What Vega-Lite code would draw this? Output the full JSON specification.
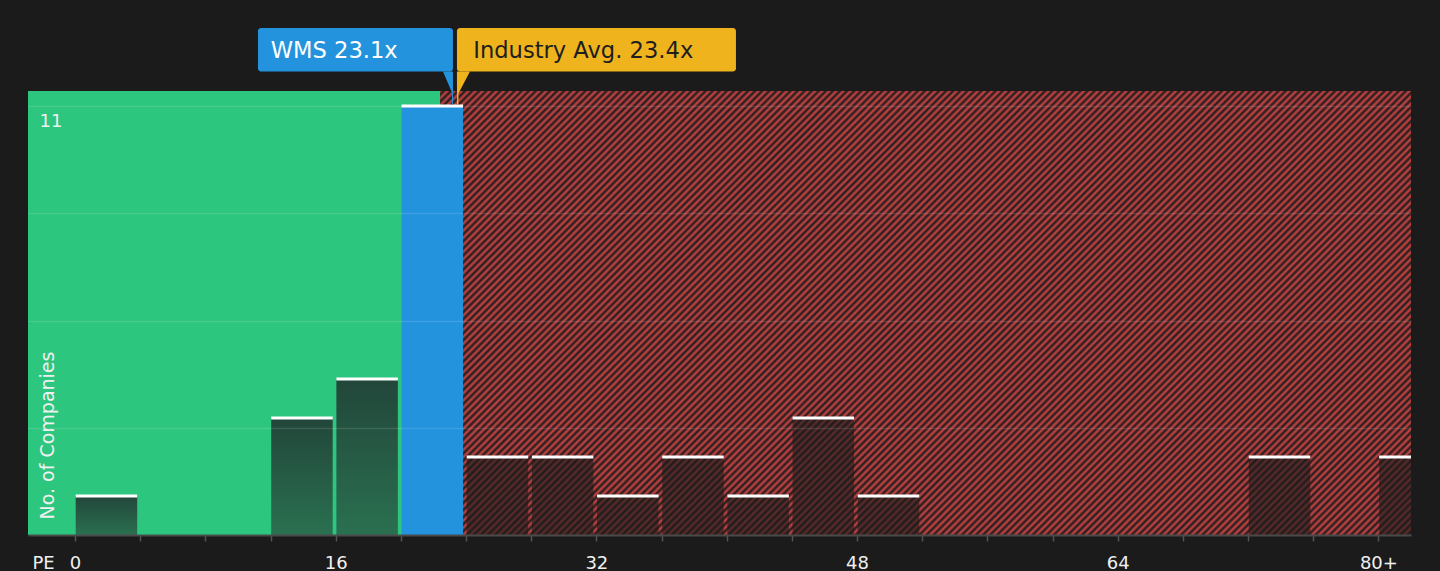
{
  "$schema": "https://vega.github.io/schema/vega-lite/v6.json",
  "width": 1383,
  "height": 444,
  "autosize": {"type": "none"},
  "padding": {"left": 28, "top": 91, "right": 29, "bottom": 36},
  "background": "#1b1b1b",
  "config": {"view": {"stroke": null}, "font": "DejaVu Sans"},
  "datasets": {
    "zones": [
      {"zone": "below", "lo": -2.885, "hi": 22.42},
      {"zone": "above", "lo": 22.42, "hi": 82}
    ],
    "bins": [
      {"start": 0, "end": 4, "count": 1, "kind": "below"},
      {"start": 12, "end": 16, "count": 3, "kind": "below"},
      {"start": 16, "end": 20, "count": 4, "kind": "below"},
      {"start": 20, "end": 24, "count": 11, "kind": "company"},
      {"start": 24, "end": 28, "count": 2, "kind": "above"},
      {"start": 28, "end": 32, "count": 2, "kind": "above"},
      {"start": 32, "end": 36, "count": 1, "kind": "above"},
      {"start": 36, "end": 40, "count": 2, "kind": "above"},
      {"start": 40, "end": 44, "count": 1, "kind": "above"},
      {"start": 44, "end": 48, "count": 3, "kind": "above"},
      {"start": 48, "end": 52, "count": 1, "kind": "above"},
      {"start": 72, "end": 76, "count": 2, "kind": "above"},
      {"start": 80, "end": 84, "count": 2, "kind": "above"}
    ],
    "notes": [
      {"label": "WMS 23.1x", "pe": 23.1, "kind": "company"},
      {"label": "Industry Avg. 23.4x", "pe": 23.4, "kind": "industry"}
    ]
  },
  "layer": [
    {
      "data": {"name": "zones"},
      "transform": [{"filter": "datum.zone == 'below'"}],
      "mark": {"type": "rect", "fill": "#2dc67e"},
      "encoding": {
        "x": {
          "field": "lo", "type": "quantitative",
          "scale": {"domain": [-2.885, 82], "nice": false, "zero": false},
          "axis": {
            "values": [0, 4, 8, 12, 16, 20, 24, 28, 32, 36, 40, 44, 48, 52, 56, 60, 64, 68, 72, 76, 80],
            "format": "d",
            "labelExpr": "datum.value == 80 ? '80+' : (datum.value % 16 == 0 ? datum.label : '')",
            "labelFontSize": 18, "labelColor": "#f0f0f0", "labelPadding": 13,
            "labelFlush": false, "labelOverlap": false, "labelFont": "DejaVu Sans",
            "tickColor": "#555555", "tickSize": 6, "tickWidth": 1.5,
            "domainColor": "#4a4a4a", "domainWidth": 2, "grid": false,
            "title": "PE", "titleX": 4, "titleY": 33, "titleAlign": "left", "titleAnchor": "start",
            "titleBaseline": "alphabetic", "titleFontSize": 18, "titleFontWeight": "normal",
            "titleColor": "#f0f0f0", "titleFont": "DejaVu Sans",
            "zindex": 1
          }
        },
        "x2": {"field": "hi"},
        "y": {
          "datum": 0, "type": "quantitative",
          "scale": {"domain": [0, 11.385], "nice": false, "zero": true},
          "axis": {
            "values": [2.75, 5.5, 8.25, 11],
            "labelExpr": "datum.value == 11 ? '11' : ''",
            "labelAlign": "left", "labelBaseline": "top", "labelPadding": -11, "labelOffset": 6,
            "labelFontSize": 18, "labelColor": "#f0f0f0", "labelFont": "DejaVu Sans",
            "ticks": false, "tickSize": 0, "domain": false,
            "grid": true, "gridColor": "#ffffff", "gridOpacity": 0.12, "gridWidth": 1.5,
            "title": "No. of Companies", "titleAngle": -90, "titleX": 25, "titleY": 428,
            "titleAlign": "left", "titleBaseline": "alphabetic", "titleFontSize": 19,
            "titleFontWeight": "normal", "titleColor": "#f0f0f0", "titleFont": "DejaVu Sans",
            "zindex": 1
          }
        },
        "y2": {"datum": 11.385}
      }
    },
    {
      "data": {"name": "zones"},
      "transform": [{"filter": "datum.zone == 'above'"}],
      "mark": {"type": "rect", "fill": {"gradient": "linear", "x1": 0, "y1": 0, "x2": 1.2052, "y2": 0.5513, "stops": [
{"offset":0,"color":"#c44"},{"offset":0.0025,"color":"#1b1b1b"},{"offset":0.005,"color":"#c44"},{"offset":0.0075,"color":"#1b1b1b"},
{"offset":0.01,"color":"#c44"},{"offset":0.0125,"color":"#1b1b1b"},{"offset":0.015,"color":"#c44"},{"offset":0.0175,"color":"#1b1b1b"},
{"offset":0.02,"color":"#c44"},{"offset":0.0225,"color":"#1b1b1b"},{"offset":0.025,"color":"#c44"},{"offset":0.0275,"color":"#1b1b1b"},
{"offset":0.03,"color":"#c44"},{"offset":0.0325,"color":"#1b1b1b"},{"offset":0.035,"color":"#c44"},{"offset":0.0375,"color":"#1b1b1b"},
{"offset":0.04,"color":"#c44"},{"offset":0.0425,"color":"#1b1b1b"},{"offset":0.045,"color":"#c44"},{"offset":0.0475,"color":"#1b1b1b"},
{"offset":0.05,"color":"#c44"},{"offset":0.0525,"color":"#1b1b1b"},{"offset":0.055,"color":"#c44"},{"offset":0.0575,"color":"#1b1b1b"},
{"offset":0.06,"color":"#c44"},{"offset":0.0625,"color":"#1b1b1b"},{"offset":0.065,"color":"#c44"},{"offset":0.0675,"color":"#1b1b1b"},
{"offset":0.07,"color":"#c44"},{"offset":0.0725,"color":"#1b1b1b"},{"offset":0.075,"color":"#c44"},{"offset":0.0775,"color":"#1b1b1b"},
{"offset":0.08,"color":"#c44"},{"offset":0.0825,"color":"#1b1b1b"},{"offset":0.085,"color":"#c44"},{"offset":0.0875,"color":"#1b1b1b"},
{"offset":0.09,"color":"#c44"},{"offset":0.0925,"color":"#1b1b1b"},{"offset":0.095,"color":"#c44"},{"offset":0.0975,"color":"#1b1b1b"},
{"offset":0.10,"color":"#c44"},{"offset":0.1025,"color":"#1b1b1b"},{"offset":0.105,"color":"#c44"},{"offset":0.1075,"color":"#1b1b1b"},
{"offset":0.11,"color":"#c44"},{"offset":0.1125,"color":"#1b1b1b"},{"offset":0.115,"color":"#c44"},{"offset":0.1175,"color":"#1b1b1b"},
{"offset":0.12,"color":"#c44"},{"offset":0.1225,"color":"#1b1b1b"},{"offset":0.125,"color":"#c44"},{"offset":0.1275,"color":"#1b1b1b"},
{"offset":0.13,"color":"#c44"},{"offset":0.1325,"color":"#1b1b1b"},{"offset":0.135,"color":"#c44"},{"offset":0.1375,"color":"#1b1b1b"},
{"offset":0.14,"color":"#c44"},{"offset":0.1425,"color":"#1b1b1b"},{"offset":0.145,"color":"#c44"},{"offset":0.1475,"color":"#1b1b1b"},
{"offset":0.15,"color":"#c44"},{"offset":0.1525,"color":"#1b1b1b"},{"offset":0.155,"color":"#c44"},{"offset":0.1575,"color":"#1b1b1b"},
{"offset":0.16,"color":"#c44"},{"offset":0.1625,"color":"#1b1b1b"},{"offset":0.165,"color":"#c44"},{"offset":0.1675,"color":"#1b1b1b"},
{"offset":0.17,"color":"#c44"},{"offset":0.1725,"color":"#1b1b1b"},{"offset":0.175,"color":"#c44"},{"offset":0.1775,"color":"#1b1b1b"},
{"offset":0.18,"color":"#c44"},{"offset":0.1825,"color":"#1b1b1b"},{"offset":0.185,"color":"#c44"},{"offset":0.1875,"color":"#1b1b1b"},
{"offset":0.19,"color":"#c44"},{"offset":0.1925,"color":"#1b1b1b"},{"offset":0.195,"color":"#c44"},{"offset":0.1975,"color":"#1b1b1b"},
{"offset":0.20,"color":"#c44"},{"offset":0.2025,"color":"#1b1b1b"},{"offset":0.205,"color":"#c44"},{"offset":0.2075,"color":"#1b1b1b"},
{"offset":0.21,"color":"#c44"},{"offset":0.2125,"color":"#1b1b1b"},{"offset":0.215,"color":"#c44"},{"offset":0.2175,"color":"#1b1b1b"},
{"offset":0.22,"color":"#c44"},{"offset":0.2225,"color":"#1b1b1b"},{"offset":0.225,"color":"#c44"},{"offset":0.2275,"color":"#1b1b1b"},
{"offset":0.23,"color":"#c44"},{"offset":0.2325,"color":"#1b1b1b"},{"offset":0.235,"color":"#c44"},{"offset":0.2375,"color":"#1b1b1b"},
{"offset":0.24,"color":"#c44"},{"offset":0.2425,"color":"#1b1b1b"},{"offset":0.245,"color":"#c44"},{"offset":0.2475,"color":"#1b1b1b"},
{"offset":0.25,"color":"#c44"},{"offset":0.2525,"color":"#1b1b1b"},{"offset":0.255,"color":"#c44"},{"offset":0.2575,"color":"#1b1b1b"},
{"offset":0.26,"color":"#c44"},{"offset":0.2625,"color":"#1b1b1b"},{"offset":0.265,"color":"#c44"},{"offset":0.2675,"color":"#1b1b1b"},
{"offset":0.27,"color":"#c44"},{"offset":0.2725,"color":"#1b1b1b"},{"offset":0.275,"color":"#c44"},{"offset":0.2775,"color":"#1b1b1b"},
{"offset":0.28,"color":"#c44"},{"offset":0.2825,"color":"#1b1b1b"},{"offset":0.285,"color":"#c44"},{"offset":0.2875,"color":"#1b1b1b"},
{"offset":0.29,"color":"#c44"},{"offset":0.2925,"color":"#1b1b1b"},{"offset":0.295,"color":"#c44"},{"offset":0.2975,"color":"#1b1b1b"},
{"offset":0.30,"color":"#c44"},{"offset":0.3025,"color":"#1b1b1b"},{"offset":0.305,"color":"#c44"},{"offset":0.3075,"color":"#1b1b1b"},
{"offset":0.31,"color":"#c44"},{"offset":0.3125,"color":"#1b1b1b"},{"offset":0.315,"color":"#c44"},{"offset":0.3175,"color":"#1b1b1b"},
{"offset":0.32,"color":"#c44"},{"offset":0.3225,"color":"#1b1b1b"},{"offset":0.325,"color":"#c44"},{"offset":0.3275,"color":"#1b1b1b"},
{"offset":0.33,"color":"#c44"},{"offset":0.3325,"color":"#1b1b1b"},{"offset":0.335,"color":"#c44"},{"offset":0.3375,"color":"#1b1b1b"},
{"offset":0.34,"color":"#c44"},{"offset":0.3425,"color":"#1b1b1b"},{"offset":0.345,"color":"#c44"},{"offset":0.3475,"color":"#1b1b1b"},
{"offset":0.35,"color":"#c44"},{"offset":0.3525,"color":"#1b1b1b"},{"offset":0.355,"color":"#c44"},{"offset":0.3575,"color":"#1b1b1b"},
{"offset":0.36,"color":"#c44"},{"offset":0.3625,"color":"#1b1b1b"},{"offset":0.365,"color":"#c44"},{"offset":0.3675,"color":"#1b1b1b"},
{"offset":0.37,"color":"#c44"},{"offset":0.3725,"color":"#1b1b1b"},{"offset":0.375,"color":"#c44"},{"offset":0.3775,"color":"#1b1b1b"},
{"offset":0.38,"color":"#c44"},{"offset":0.3825,"color":"#1b1b1b"},{"offset":0.385,"color":"#c44"},{"offset":0.3875,"color":"#1b1b1b"},
{"offset":0.39,"color":"#c44"},{"offset":0.3925,"color":"#1b1b1b"},{"offset":0.395,"color":"#c44"},{"offset":0.3975,"color":"#1b1b1b"},
{"offset":0.40,"color":"#c44"},{"offset":0.4025,"color":"#1b1b1b"},{"offset":0.405,"color":"#c44"},{"offset":0.4075,"color":"#1b1b1b"},
{"offset":0.41,"color":"#c44"},{"offset":0.4125,"color":"#1b1b1b"},{"offset":0.415,"color":"#c44"},{"offset":0.4175,"color":"#1b1b1b"},
{"offset":0.42,"color":"#c44"},{"offset":0.4225,"color":"#1b1b1b"},{"offset":0.425,"color":"#c44"},{"offset":0.4275,"color":"#1b1b1b"},
{"offset":0.43,"color":"#c44"},{"offset":0.4325,"color":"#1b1b1b"},{"offset":0.435,"color":"#c44"},{"offset":0.4375,"color":"#1b1b1b"},
{"offset":0.44,"color":"#c44"},{"offset":0.4425,"color":"#1b1b1b"},{"offset":0.445,"color":"#c44"},{"offset":0.4475,"color":"#1b1b1b"},
{"offset":0.45,"color":"#c44"},{"offset":0.4525,"color":"#1b1b1b"},{"offset":0.455,"color":"#c44"},{"offset":0.4575,"color":"#1b1b1b"},
{"offset":0.46,"color":"#c44"},{"offset":0.4625,"color":"#1b1b1b"},{"offset":0.465,"color":"#c44"},{"offset":0.4675,"color":"#1b1b1b"},
{"offset":0.47,"color":"#c44"},{"offset":0.4725,"color":"#1b1b1b"},{"offset":0.475,"color":"#c44"},{"offset":0.4775,"color":"#1b1b1b"},
{"offset":0.48,"color":"#c44"},{"offset":0.4825,"color":"#1b1b1b"},{"offset":0.485,"color":"#c44"},{"offset":0.4875,"color":"#1b1b1b"},
{"offset":0.49,"color":"#c44"},{"offset":0.4925,"color":"#1b1b1b"},{"offset":0.495,"color":"#c44"},{"offset":0.4975,"color":"#1b1b1b"},
{"offset":0.50,"color":"#c44"},{"offset":0.5025,"color":"#1b1b1b"},{"offset":0.505,"color":"#c44"},{"offset":0.5075,"color":"#1b1b1b"},
{"offset":0.51,"color":"#c44"},{"offset":0.5125,"color":"#1b1b1b"},{"offset":0.515,"color":"#c44"},{"offset":0.5175,"color":"#1b1b1b"},
{"offset":0.52,"color":"#c44"},{"offset":0.5225,"color":"#1b1b1b"},{"offset":0.525,"color":"#c44"},{"offset":0.5275,"color":"#1b1b1b"},
{"offset":0.53,"color":"#c44"},{"offset":0.5325,"color":"#1b1b1b"},{"offset":0.535,"color":"#c44"},{"offset":0.5375,"color":"#1b1b1b"},
{"offset":0.54,"color":"#c44"},{"offset":0.5425,"color":"#1b1b1b"},{"offset":0.545,"color":"#c44"},{"offset":0.5475,"color":"#1b1b1b"},
{"offset":0.55,"color":"#c44"},{"offset":0.5525,"color":"#1b1b1b"},{"offset":0.555,"color":"#c44"},{"offset":0.5575,"color":"#1b1b1b"},
{"offset":0.56,"color":"#c44"},{"offset":0.5625,"color":"#1b1b1b"},{"offset":0.565,"color":"#c44"},{"offset":0.5675,"color":"#1b1b1b"},
{"offset":0.57,"color":"#c44"},{"offset":0.5725,"color":"#1b1b1b"},{"offset":0.575,"color":"#c44"},{"offset":0.5775,"color":"#1b1b1b"},
{"offset":0.58,"color":"#c44"},{"offset":0.5825,"color":"#1b1b1b"},{"offset":0.585,"color":"#c44"},{"offset":0.5875,"color":"#1b1b1b"},
{"offset":0.59,"color":"#c44"},{"offset":0.5925,"color":"#1b1b1b"},{"offset":0.595,"color":"#c44"},{"offset":0.5975,"color":"#1b1b1b"},
{"offset":0.60,"color":"#c44"},{"offset":0.6025,"color":"#1b1b1b"},{"offset":0.605,"color":"#c44"},{"offset":0.6075,"color":"#1b1b1b"},
{"offset":0.61,"color":"#c44"},{"offset":0.6125,"color":"#1b1b1b"},{"offset":0.615,"color":"#c44"},{"offset":0.6175,"color":"#1b1b1b"},
{"offset":0.62,"color":"#c44"},{"offset":0.6225,"color":"#1b1b1b"},{"offset":0.625,"color":"#c44"},{"offset":0.6275,"color":"#1b1b1b"},
{"offset":0.63,"color":"#c44"},{"offset":0.6325,"color":"#1b1b1b"},{"offset":0.635,"color":"#c44"},{"offset":0.6375,"color":"#1b1b1b"},
{"offset":0.64,"color":"#c44"},{"offset":0.6425,"color":"#1b1b1b"},{"offset":0.645,"color":"#c44"},{"offset":0.6475,"color":"#1b1b1b"},
{"offset":0.65,"color":"#c44"},{"offset":0.6525,"color":"#1b1b1b"},{"offset":0.655,"color":"#c44"},{"offset":0.6575,"color":"#1b1b1b"},
{"offset":0.66,"color":"#c44"},{"offset":0.6625,"color":"#1b1b1b"},{"offset":0.665,"color":"#c44"},{"offset":0.6675,"color":"#1b1b1b"},
{"offset":0.67,"color":"#c44"},{"offset":0.6725,"color":"#1b1b1b"},{"offset":0.675,"color":"#c44"},{"offset":0.6775,"color":"#1b1b1b"},
{"offset":0.68,"color":"#c44"},{"offset":0.6825,"color":"#1b1b1b"},{"offset":0.685,"color":"#c44"},{"offset":0.6875,"color":"#1b1b1b"},
{"offset":0.69,"color":"#c44"},{"offset":0.6925,"color":"#1b1b1b"},{"offset":0.695,"color":"#c44"},{"offset":0.6975,"color":"#1b1b1b"},
{"offset":0.70,"color":"#c44"},{"offset":0.7025,"color":"#1b1b1b"},{"offset":0.705,"color":"#c44"},{"offset":0.7075,"color":"#1b1b1b"},
{"offset":0.71,"color":"#c44"},{"offset":0.7125,"color":"#1b1b1b"},{"offset":0.715,"color":"#c44"},{"offset":0.7175,"color":"#1b1b1b"},
{"offset":0.72,"color":"#c44"},{"offset":0.7225,"color":"#1b1b1b"},{"offset":0.725,"color":"#c44"},{"offset":0.7275,"color":"#1b1b1b"},
{"offset":0.73,"color":"#c44"},{"offset":0.7325,"color":"#1b1b1b"},{"offset":0.735,"color":"#c44"},{"offset":0.7375,"color":"#1b1b1b"},
{"offset":0.74,"color":"#c44"},{"offset":0.7425,"color":"#1b1b1b"},{"offset":0.745,"color":"#c44"},{"offset":0.7475,"color":"#1b1b1b"},
{"offset":0.75,"color":"#c44"},{"offset":0.7525,"color":"#1b1b1b"},{"offset":0.755,"color":"#c44"},{"offset":0.7575,"color":"#1b1b1b"},
{"offset":0.76,"color":"#c44"},{"offset":0.7625,"color":"#1b1b1b"},{"offset":0.765,"color":"#c44"},{"offset":0.7675,"color":"#1b1b1b"},
{"offset":0.77,"color":"#c44"},{"offset":0.7725,"color":"#1b1b1b"},{"offset":0.775,"color":"#c44"},{"offset":0.7775,"color":"#1b1b1b"},
{"offset":0.78,"color":"#c44"},{"offset":0.7825,"color":"#1b1b1b"},{"offset":0.785,"color":"#c44"},{"offset":0.7875,"color":"#1b1b1b"},
{"offset":0.79,"color":"#c44"},{"offset":0.7925,"color":"#1b1b1b"},{"offset":0.795,"color":"#c44"},{"offset":0.7975,"color":"#1b1b1b"},
{"offset":0.80,"color":"#c44"},{"offset":0.8025,"color":"#1b1b1b"},{"offset":0.805,"color":"#c44"},{"offset":0.8075,"color":"#1b1b1b"},
{"offset":0.81,"color":"#c44"},{"offset":0.8125,"color":"#1b1b1b"},{"offset":0.815,"color":"#c44"},{"offset":0.8175,"color":"#1b1b1b"},
{"offset":0.82,"color":"#c44"},{"offset":0.8225,"color":"#1b1b1b"},{"offset":0.825,"color":"#c44"},{"offset":0.8275,"color":"#1b1b1b"},
{"offset":0.83,"color":"#c44"},{"offset":0.8325,"color":"#1b1b1b"},{"offset":0.835,"color":"#c44"},{"offset":0.8375,"color":"#1b1b1b"},
{"offset":0.84,"color":"#c44"},{"offset":0.8425,"color":"#1b1b1b"},{"offset":0.845,"color":"#c44"},{"offset":0.8475,"color":"#1b1b1b"},
{"offset":0.85,"color":"#c44"},{"offset":0.8525,"color":"#1b1b1b"},{"offset":0.855,"color":"#c44"},{"offset":0.8575,"color":"#1b1b1b"},
{"offset":0.86,"color":"#c44"},{"offset":0.8625,"color":"#1b1b1b"},{"offset":0.865,"color":"#c44"},{"offset":0.8675,"color":"#1b1b1b"},
{"offset":0.87,"color":"#c44"},{"offset":0.8725,"color":"#1b1b1b"},{"offset":0.875,"color":"#c44"},{"offset":0.8775,"color":"#1b1b1b"},
{"offset":0.88,"color":"#c44"},{"offset":0.8825,"color":"#1b1b1b"},{"offset":0.885,"color":"#c44"},{"offset":0.8875,"color":"#1b1b1b"},
{"offset":0.89,"color":"#c44"},{"offset":0.8925,"color":"#1b1b1b"},{"offset":0.895,"color":"#c44"},{"offset":0.8975,"color":"#1b1b1b"},
{"offset":0.90,"color":"#c44"},{"offset":0.9025,"color":"#1b1b1b"},{"offset":0.905,"color":"#c44"},{"offset":0.9075,"color":"#1b1b1b"},
{"offset":0.91,"color":"#c44"},{"offset":0.9125,"color":"#1b1b1b"},{"offset":0.915,"color":"#c44"},{"offset":0.9175,"color":"#1b1b1b"},
{"offset":0.92,"color":"#c44"},{"offset":0.9225,"color":"#1b1b1b"},{"offset":0.925,"color":"#c44"},{"offset":0.9275,"color":"#1b1b1b"},
{"offset":0.93,"color":"#c44"},{"offset":0.9325,"color":"#1b1b1b"},{"offset":0.935,"color":"#c44"},{"offset":0.9375,"color":"#1b1b1b"},
{"offset":0.94,"color":"#c44"},{"offset":0.9425,"color":"#1b1b1b"},{"offset":0.945,"color":"#c44"},{"offset":0.9475,"color":"#1b1b1b"},
{"offset":0.95,"color":"#c44"},{"offset":0.9525,"color":"#1b1b1b"},{"offset":0.955,"color":"#c44"},{"offset":0.9575,"color":"#1b1b1b"},
{"offset":0.96,"color":"#c44"},{"offset":0.9625,"color":"#1b1b1b"},{"offset":0.965,"color":"#c44"},{"offset":0.9675,"color":"#1b1b1b"},
{"offset":0.97,"color":"#c44"},{"offset":0.9725,"color":"#1b1b1b"},{"offset":0.975,"color":"#c44"},{"offset":0.9775,"color":"#1b1b1b"},
{"offset":0.98,"color":"#c44"},{"offset":0.9825,"color":"#1b1b1b"},{"offset":0.985,"color":"#c44"},{"offset":0.9875,"color":"#1b1b1b"},
{"offset":0.99,"color":"#c44"},{"offset":0.9925,"color":"#1b1b1b"},{"offset":0.995,"color":"#c44"},{"offset":0.9975,"color":"#1b1b1b"},
{"offset":1,"color":"#c44"}
      ]}},
      "encoding": {
        "x": {"field": "lo", "type": "quantitative"},
        "x2": {"field": "hi"},
        "y": {"datum": 0, "type": "quantitative"},
        "y2": {"datum": 11.385}
      }
    },
    {
      "data": {"name": "bins"},
      "transform": [{"filter": "datum.kind == 'below'"}],
      "mark": {
        "type": "rect", "xOffset": 0.7, "x2Offset": -3, "zindex": 2,
        "fill": {"gradient": "linear", "x1": 0, "y1": 0, "x2": 0, "y2": 1,
          "stops": [{"offset": 0, "color": "#22463a"}, {"offset": 1, "color": "#2a7050"}]}
      },
      "encoding": {
        "x": {"field": "start", "type": "quantitative"},
        "x2": {"field": "end"},
        "y": {"field": "count", "type": "quantitative"},
        "y2": {"datum": 0}
      }
    },
    {
      "data": {"name": "bins"},
      "transform": [{"filter": "datum.kind == 'company'"}],
      "mark": {"type": "rect", "xOffset": 0.7, "x2Offset": -3, "zindex": 2, "fill": "#2393de"},
      "encoding": {
        "x": {"field": "start", "type": "quantitative"},
        "x2": {"field": "end"},
        "y": {"field": "count", "type": "quantitative"},
        "y2": {"datum": 0}
      }
    },
    {
      "data": {"name": "bins"},
      "transform": [{"filter": "datum.kind == 'above'"}],
      "mark": {"type": "rect", "xOffset": 0.7, "x2Offset": -3, "zindex": 2, "fill": "#1b1b1b", "fillOpacity": 0.62, "clip": true},
      "encoding": {
        "x": {"field": "start", "type": "quantitative"},
        "x2": {"field": "end"},
        "y": {"field": "count", "type": "quantitative"},
        "y2": {"datum": 0}
      }
    },
    {
      "data": {"name": "bins"},
      "mark": {"type": "rule", "xOffset": 0.7, "x2Offset": -3, "zindex": 3, "stroke": "#ffffff", "strokeWidth": 3, "clip": true},
      "encoding": {
        "x": {"field": "start", "type": "quantitative"},
        "x2": {"field": "end"},
        "y": {"field": "count", "type": "quantitative"}
      }
    },
    {
      "data": {"name": "notes"},
      "transform": [{"filter": "datum.kind == 'company'"}],
      "mark": {"type": "rect", "xOffset": -193.4, "x2Offset": 1.6, "cornerRadius": 3, "fill": "#2393de", "zindex": 4},
      "encoding": {
        "x": {"field": "pe", "type": "quantitative"},
        "x2": {"field": "pe"},
        "y": {"datum": 13.0, "type": "quantitative"},
        "y2": {"datum": 11.885}
      }
    },
    {
      "data": {"name": "notes"},
      "transform": [{"filter": "datum.kind == 'company'"}],
      "mark": {"type": "point", "shape": "M-0.303,0L0,0L0,1L-0.03,1L-0.03,0.64Z", "size": 4356, "filled": true, "opacity": 1, "strokeWidth": 0, "fill": "#2393de", "xOffset": 1.6, "zindex": 4},
      "encoding": {
        "x": {"field": "pe", "type": "quantitative"},
        "y": {"datum": 11.885, "type": "quantitative"}
      }
    },
    {
      "data": {"name": "notes"},
      "transform": [{"filter": "datum.kind == 'company'"}],
      "mark": {"type": "text", "align": "left", "baseline": "middle", "dx": -180.7, "fontSize": 22.6, "font": "DejaVu Sans", "fill": "#ffffff", "zindex": 5},
      "encoding": {
        "x": {"field": "pe", "type": "quantitative"},
        "y": {"datum": 12.41, "type": "quantitative"},
        "text": {"field": "label"}
      }
    },
    {
      "data": {"name": "notes"},
      "transform": [{"filter": "datum.kind == 'industry'"}],
      "mark": {"type": "rect", "xOffset": 0.7, "x2Offset": 279.7, "cornerRadius": 3, "fill": "#efb31e", "zindex": 4},
      "encoding": {
        "x": {"field": "pe", "type": "quantitative"},
        "x2": {"field": "pe"},
        "y": {"datum": 13.0, "type": "quantitative"},
        "y2": {"datum": 11.885}
      }
    },
    {
      "data": {"name": "notes"},
      "transform": [{"filter": "datum.kind == 'industry'"}],
      "mark": {"type": "point", "shape": "M0,0L0.394,0L0.045,0.667L0.045,1L0,1Z", "size": 4356, "filled": true, "opacity": 1, "strokeWidth": 0, "fill": "#efb31e", "xOffset": 0.7, "zindex": 4},
      "encoding": {
        "x": {"field": "pe", "type": "quantitative"},
        "y": {"datum": 11.885, "type": "quantitative"}
      }
    },
    {
      "data": {"name": "notes"},
      "transform": [{"filter": "datum.kind == 'industry'"}],
      "mark": {"type": "text", "align": "left", "baseline": "middle", "dx": 17, "fontSize": 22.6, "font": "DejaVu Sans", "fill": "#1e1e1e", "zindex": 5},
      "encoding": {
        "x": {"field": "pe", "type": "quantitative"},
        "y": {"datum": 12.41, "type": "quantitative"},
        "text": {"field": "label"}
      }
    }
  ]
}
